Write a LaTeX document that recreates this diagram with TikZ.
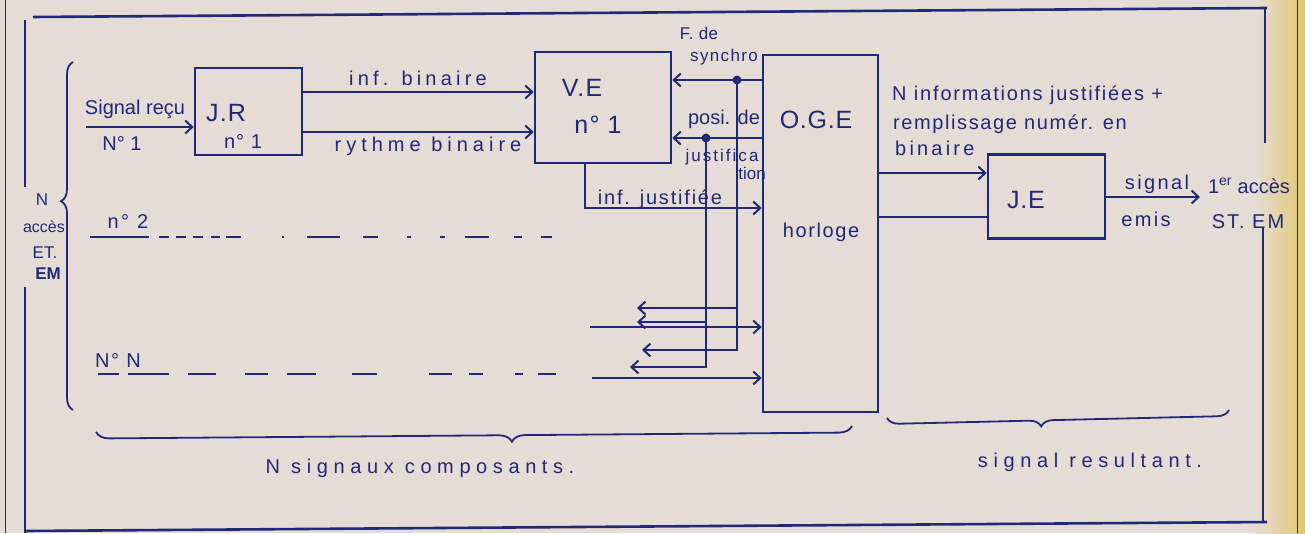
\documentclass[tikz,border=0pt]{standalone}
\usepackage{fontspec}
\setmainfont{Liberation Sans}
\usetikzlibrary{arrows.meta,decorations.pathreplacing,calc}
\definecolor{ink}{RGB}{32,40,120}
\definecolor{paper}{RGB}{230,220,214}
\definecolor{gold}{RGB}{225,200,110}
\begin{document}
\begin{tikzpicture}[x=1pt,y=-1pt,
  line/.style={draw=ink,line width=2pt},
  arr/.style={draw=ink,line width=2pt,-{Straight Barb[length=7pt,width=13pt]}},
  blk/.style={draw=ink,line width=2.6pt,inner sep=0pt},
  lbl/.style={text=ink,inner sep=0pt,font=\fontsize{20}{22}\selectfont\addfontfeature{LetterSpace=#1}},
  lbl/.default=0,
  sml/.style={text=ink,inner sep=0pt,font=\fontsize{17}{19}\selectfont\addfontfeature{LetterSpace=#1}},
  sml/.default=0,
  big/.style={text=ink,inner sep=0pt,font=\fontsize{25}{27}\selectfont\addfontfeature{LetterSpace=#1}},
  big/.default=0,
  dot/.style={circle,fill=ink,inner sep=0pt,minimum size=9pt},
  brc/.style={draw=ink,line width=1.8pt,decorate,decoration={brace,amplitude=12pt}}]
% paper
\fill[paper] (0,0) rectangle (1305,533);
\shade[left color=paper,right color=gold] (1255,0) rectangle (1305,533);
\useasboundingbox (0,0) rectangle (1305,533);
% frame
\draw[ink,line width=1pt] (5,0) -- (5,533);
\draw[ink,line width=1pt] (1297,0) -- (1297,533);
\draw[line,line width=2.6pt] (33,17) -- (1267,8);
\draw[line,line width=2.6pt] (25,531) -- (1267,522);
\draw[line] (25,20) -- (25,187);
\draw[line] (25,287) -- (25,533);
\draw[line] (1265,8) -- (1265,143);
\draw[line] (1263,228) -- (1263,522);
% blocks
\node[blk,minimum width=107pt,minimum height=87pt] (jr) at (248.5,111.5) {};
\node[blk,minimum width=136pt,minimum height=111pt] (ve) at (603,107.5) {};
\node[blk,minimum width=115pt,minimum height=357pt] (oge) at (820.5,233.5) {};
\node[blk,minimum width=117pt,minimum height=84pt] (je) at (1046.5,196.5) {};
\node[big=5] (tjr) at (226,113) {J.R};
\node[lbl=5] (njr) at (243,142) {n° 1};
\node[big=5] (tve) at (582,88) {V.E};
\node[big=5] (nve) at (598,125) {n° 1};
\node[big=3] (toge) at (816,120) {O.G.E};
\node[lbl=8] (hor) at (821,232) {horloge};
\node[big=3] (tje) at (1026,200) {J.E};
% left side labels
\node[sml] (lN) at (42,200) {N};
\node[sml,font=\fontsize{16}{18}\selectfont] (lacc) at (44,227) {accès};
\node[sml] (lET) at (45,253) {ET.};
\node[sml,font=\fontsize{17}{19}\selectfont\bfseries] (lEM) at (48,274) {EM};
\draw[brc,decoration={brace,amplitude=12pt,aspect=0.6}] (73,410) -- (73,62);
% input 1
\coordinate (in1) at (86,127);
\draw[arr] (in1) -- (jr.west |- in1);
\node[lbl] (sig) at (135,109) {Signal reçu};
\node[lbl] (n1) at (122,144) {N° 1};
% JR -> VE
\coordinate (yb) at (0,92);
\coordinate (yr) at (0,132);
\draw[arr] (jr.east |- yb) -- (ve.west |- yb);
\draw[arr] (jr.east |- yr) -- (ve.west |- yr);
\node[lbl=21] (tinfb) at (418,78) {inf. binaire};
\node[lbl=25] (tryth) at (428,146) {rythme binaire};
% OGE -> VE
\node[dot] (ds) at (737,80) {};
\node[dot] (dp) at (706,138) {};
\draw[arr] (oge.west |- ds) -- (ve.east |- ds);
\draw[arr] (oge.west |- dp) -- (ve.east |- dp);
\node[sml=3] (fde) at (699,33) {F. de};
\node[sml=8] (fsy) at (724,57) {synchro};
\node[lbl] (tposi) at (724,119) {posi. de};
\node[sml=12] (tjus) at (722,157) {justifica};
\node[sml] (ttion) at (752,173) {tion};
% inf justifiee
\coordinate (j1) at (585,208);
\draw[arr] (ve.south -| j1) -- (j1) -- (oge.west |- j1);
\node[lbl=9] (tinfj) at (660,199) {inf. justifiée};
% feedback verticals
\coordinate (a1) at (637,308);
\coordinate (a2) at (637,322);
\coordinate (a3) at (642,350);
\coordinate (a4) at (630,367);
\draw[arr] (ds.center) -- (ds |- a3) -- (a3);
\draw[arr] (ds |- a1) -- (a1);
\draw[arr] (dp.center) -- (dp |- a4) -- (a4);
\draw[arr] (dp |- a2) -- (a2);
\coordinate (i1) at (590,327);
\coordinate (i2) at (592,378);
\draw[arr] (i1) -- (oge.west |- i1);
\draw[arr] (i2) -- (oge.west |- i2);
% other accesses
\node[lbl=12] (tn2) at (128,222) {n° 2};
\draw[line,dash pattern=on 59pt off 10pt on 10pt off 7pt on 10pt off 7pt on 10pt off 8pt on 9pt off 6pt on 15pt off 41pt on 2pt off 23pt on 33pt off 23pt on 15pt off 29pt on 4pt off 29pt on 5pt off 20pt on 24pt off 25pt on 8pt off 19pt on 12pt off 100pt] (90,237) -- (552,237);
\node[lbl=8] (tnN) at (118,361) {N° N};
\draw[line,dash pattern=on 21pt off 9pt on 41pt off 19pt on 28pt off 29pt on 23pt off 19pt on 29pt off 36pt on 25pt off 52pt on 23pt off 17pt on 14pt off 32pt on 8pt off 15pt on 18pt off 100pt] (98,374) -- (556,374);
% OGE -> JE
\coordinate (o1) at (0,173);
\coordinate (o2) at (0,217);
\draw[arr] (oge.east |- o1) -- (je.west |- o1);
\draw[line] (oge.east |- o2) -- (je.west |- o2);
\node[lbl=9,anchor=west] (tninf) at (892,95) {N informations justifiées +};
\node[lbl=8,anchor=west] (trem) at (893,124) {remplissage numér. en};
\node[lbl=16,anchor=west] (tbin) at (895,148) {binaire};
% output
\coordinate (out) at (1200,197);
\draw[arr] (je.east |- out) -- (out);
\node[lbl=12] (tsig) at (1157,184) {signal};
\node[lbl=12] (temis) at (1146,219) {emis};
\node[lbl] (tacc) at (1249,186) {1\textsuperscript{er} accès};
\node[lbl=10] (tst) at (1248,222) {ST. EM};
% bottom braces
\draw[brc,decoration={brace,amplitude=13pt,aspect=0.45}] (852,426) -- (96,432);
\node[lbl=28] (tcomp) at (420,468) {N signaux composants.};
\draw[brc,decoration={brace,amplitude=12pt,aspect=0.55}] (1229,410) -- (887,418);
\node[lbl=28] (tres) at (1090,462) {signal resultant.};
\end{tikzpicture}
\end{document}
